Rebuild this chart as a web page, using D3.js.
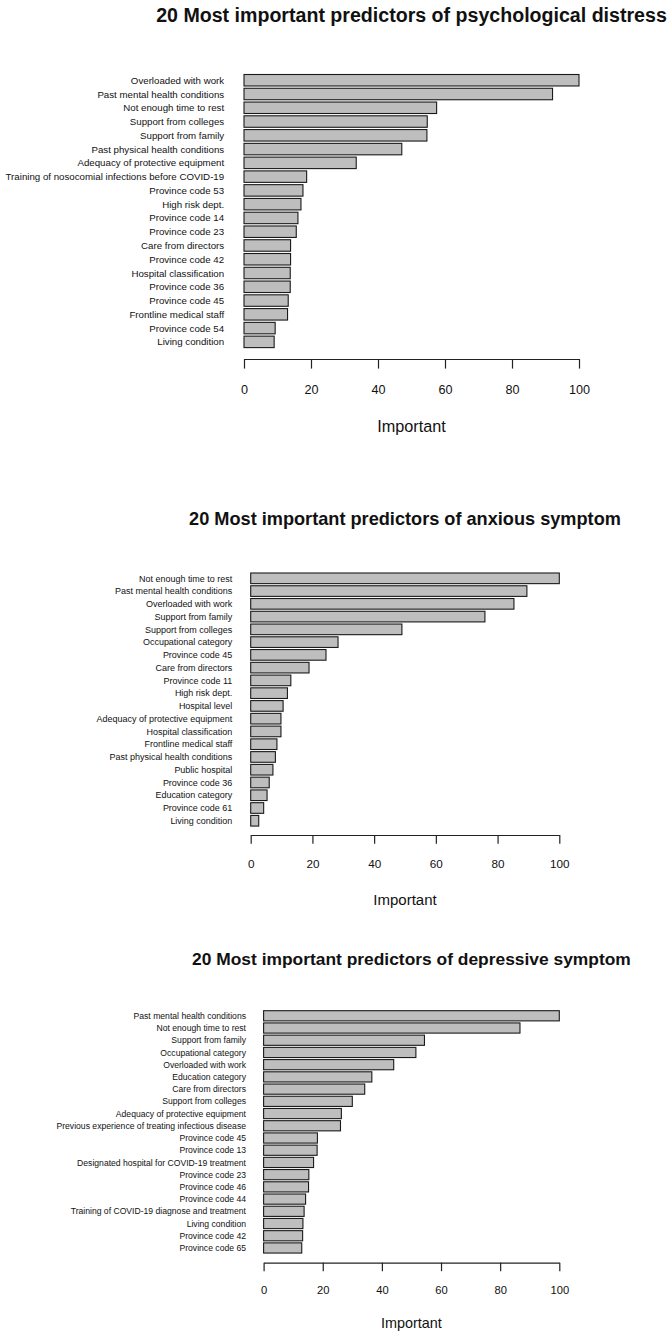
<!DOCTYPE html>
<html>
<head>
<meta charset="utf-8">
<script src="https://cdn.jsdelivr.net/npm/d3@7"></script>
<style>
  html, body { margin: 0; padding: 0; background: #fff; }
  text { font-family: "Liberation Sans", Arial, sans-serif; fill: #111; }
  .bar { fill: #bebebe; stroke: #1a1a1a; stroke-width: 1.1px; }
  .axis path, .axis line { stroke: #222; stroke-width: 1.2px; }
</style>
</head>
<body>
<div id="chart"></div>
<script>
// Panel 1: psychological distress
const distressNames = [
  "Overloaded with work", "Past mental health conditions", "Not enough time to rest",
  "Support from colleges", "Support from family", "Past physical health conditions",
  "Adequacy of protective equipment", "Training of nosocomial infections before COVID-19",
  "Province code 53", "High risk dept.", "Province code 14", "Province code 23",
  "Care from directors", "Province code 42", "Hospital classification", "Province code 36",
  "Province code 45", "Frontline medical staff", "Province code 54", "Living condition"
];
const distressValues = [100, 92.1, 57.5, 54.7, 54.6, 47.1, 33.5, 18.7, 17.6, 17.0,
  16.1, 15.6, 13.9, 13.9, 13.8, 13.8, 13.2, 13.0, 9.3, 9.0];

// Panel 2: anxious symptom
const anxiousNames = [
  "Not enough time to rest", "Past mental health conditions", "Overloaded with work",
  "Support from family", "Support from colleges", "Occupational category",
  "Province code 45", "Care from directors", "Province code 11", "High risk dept.",
  "Hospital level", "Adequacy of protective equipment", "Hospital classification",
  "Frontline medical staff", "Past physical health conditions", "Public hospital",
  "Province code 36", "Education category", "Province code 61", "Living condition"
];
const anxiousValues = [100, 89.5, 85.3, 75.9, 49.0, 28.3, 24.4, 18.9, 13.0, 11.9,
  10.5, 9.8, 9.8, 8.5, 8.0, 7.2, 6.0, 5.3, 4.2, 2.6];

// Panel 3: depressive symptom
const depressiveNames = [
  "Past mental health conditions", "Not enough time to rest", "Support from family",
  "Occupational category", "Overloaded with work", "Education category",
  "Care from directors", "Support from colleges", "Adequacy of protective equipment",
  "Previous experience of treating infectious disease", "Province code 45",
  "Province code 13", "Designated hospital for COVID-19 treatment", "Province code 23",
  "Province code 46", "Province code 44", "Training of COVID-19 diagnose and treatment",
  "Living condition", "Province code 42", "Province code 65"
];
const depressiveValues = [100, 86.7, 54.4, 51.5, 44.0, 36.6, 34.2, 30.0, 26.3, 26.0,
  18.2, 18.1, 16.9, 15.3, 15.2, 14.2, 13.7, 13.3, 13.2, 12.9];

const titles = [
  "20 Most important predictors of psychological distress",
  "20 Most important predictors of anxious symptom",
  "20 Most important predictors of depressive symptom"
];
const xTicks = [0, 20, 40, 60, 80, 100];
const xLabel = "Important";

// Each panel is the same R plot scaled a little differently
const panels = [
  { names: distressNames, values: distressValues, title: titles[0],
    x0: 244, x1: 579, titleY: 22, barTop: 74.5, step: 13.77, axisY: 359,
    tickLabelY: 393.5, xLabelY: 432, s: 1.127 },
  { names: anxiousNames, values: anxiousValues, title: titles[1],
    x0: 250.7, x1: 559.3, titleY: 525, barTop: 573, step: 12.76, axisY: 835,
    tickLabelY: 868, xLabelY: 905, s: 1.044 },
  { names: depressiveNames, values: depressiveValues, title: titles[2],
    x0: 263.6, x1: 559.3, titleY: 965, barTop: 1010.7, step: 12.22, axisY: 1262.7,
    tickLabelY: 1294, xLabelY: 1328, s: 1.0 }
];

const svg = d3.select("#chart")
  .append("svg")
  .attr("width", 671)
  .attr("height", 1339);

svg.append("rect").attr("width", 671).attr("height", 1339).attr("fill", "#fff");

const pad = 0.2 / 1.2;

panels.forEach(p => {
  const g = svg.append("g");
  const n = p.names.length;

  const x = d3.scaleLinear().domain([0, 100]).range([p.x0, p.x1]);
  const y = d3.scaleBand()
    .domain(p.names)
    .range([p.barTop, p.barTop + p.step * (n - pad)])
    .paddingInner(pad)
    .paddingOuter(0);

  // bars
  g.selectAll(".bar")
    .data(p.names)
    .enter().append("rect")
    .attr("class", "bar")
    .attr("x", x(0))
    .attr("y", d => y(d))
    .attr("width", (d, i) => x(p.values[i]) - x(0))
    .attr("height", y.bandwidth());

  // category labels
  const labelSize = 8.62 * p.s;
  g.selectAll(".lab")
    .data(p.names)
    .enter().append("text")
    .attr("x", x(0) - 17.6 * p.s)
    .attr("y", d => y(d) + y.bandwidth() / 2)
    .attr("dy", "0.36em")
    .attr("text-anchor", "end")
    .style("font-size", labelSize + "px")
    .text(d => d);

  // x axis
  const tickSize = 8.5 * p.s;
  const tickFont = 11.2 * p.s;
  const axis = d3.axisBottom(x)
    .tickValues(xTicks)
    .tickSize(tickSize)
    .tickSizeOuter(0)
    .tickPadding(p.tickLabelY - p.axisY - tickSize - 0.71 * tickFont);

  const gx = g.append("g")
    .attr("class", "axis")
    .attr("transform", `translate(0,${p.axisY})`)
    .call(axis);
  gx.selectAll("text")
    .style("font-size", tickFont + "px")
    .style("font-family", "'Liberation Sans', Arial, sans-serif")
    .attr("fill", "#111");

  // x label
  g.append("text")
    .attr("x", (p.x0 + p.x1) / 2)
    .attr("y", p.xLabelY)
    .attr("text-anchor", "middle")
    .style("font-size", (14.4 * p.s) + "px")
    .text(xLabel);

  // title
  g.append("text")
    .attr("x", (p.x0 + p.x1) / 2)
    .attr("y", p.titleY)
    .attr("text-anchor", "middle")
    .style("font-size", (17.4 * p.s) + "px")
    .style("font-weight", "bold")
    .text(p.title);
});
</script>
</body>
</html>
